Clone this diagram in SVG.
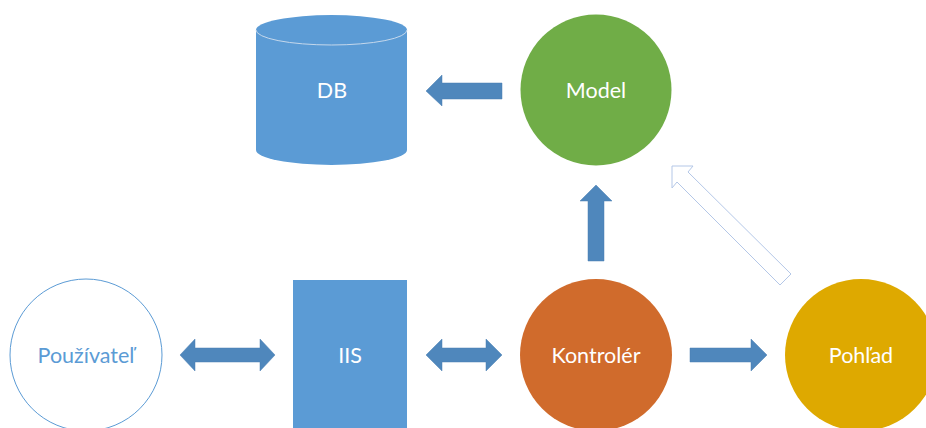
<svg xmlns="http://www.w3.org/2000/svg" width="926" height="428" viewBox="0 0 926 428">
<style>
.lbl{font-family:Lato,"Open Sans",sans-serif;font-size:21.5px;fill:#ffffff;text-anchor:middle;dominant-baseline:central}
.arr{fill:#4f87bc;stroke:#4a7fb3;stroke-width:0.5}
</style>
<rect width="926" height="428" fill="#ffffff"/>
<g id="connectors">
<polygon class="arr" points="426,91 442,75 442,83 502,83 502,99 442,99 442,106"/>
<polygon class="arr" points="596,185 612,201 604,201 604,261 588,261 588,201 580,201"/>
<polygon class="arr" points="180,355 195,339 195,348 260,348 260,339 275,355 260,371 260,362 195,362 195,371"/>
<polygon class="arr" points="426,355 442,339 442,348 486,348 486,339 502,355 486,371 486,362 442,362 442,371"/>
<polygon class="arr" points="767,355 751,339 751,348 690,348 690,362 751,362 751,371"/>
<polygon points="672,166 693,166 688,172 791,274 780,285 677,182 672,188" fill="#ffffff" stroke="#b4c7e7" stroke-width="1"/>
</g>
<g id="db">
<path d="M256,30 L256,150 A75.5,15 0 0 0 407,150 L407,30 A75.5,15 0 0 0 256,30 Z" fill="#5b9bd5"/>
<path d="M256,30 A75.5,15 0 0 0 407,30" fill="none" stroke="#c5d8ec" stroke-width="1"/>
<text class="lbl" x="332" y="90">DB</text>
</g>
<g id="model">
<circle cx="596" cy="90" r="75.5" fill="#70ad47"/>
<text class="lbl" x="596" y="90">Model</text>
</g>
<g id="pouzivatel">
<circle cx="86" cy="355" r="76" fill="#ffffff" stroke="#5b9bd5" stroke-width="1"/>
<text class="lbl" x="86" y="355" style="fill:#5b9bd5">Používateľ</text>
</g>
<g id="iis">
<rect x="293" y="280" width="114" height="160" fill="#5b9bd5"/>
<text class="lbl" x="350" y="355">IIS</text>
</g>
<g id="kontroler">
<circle cx="596" cy="355" r="76" fill="#d06b2c"/>
<text class="lbl" x="596" y="355">Kontrolér</text>
</g>
<g id="pohlad">
<circle cx="861" cy="355" r="76" fill="#dea900"/>
<text class="lbl" x="861" y="355">Pohľad</text>
</g>
</svg>
